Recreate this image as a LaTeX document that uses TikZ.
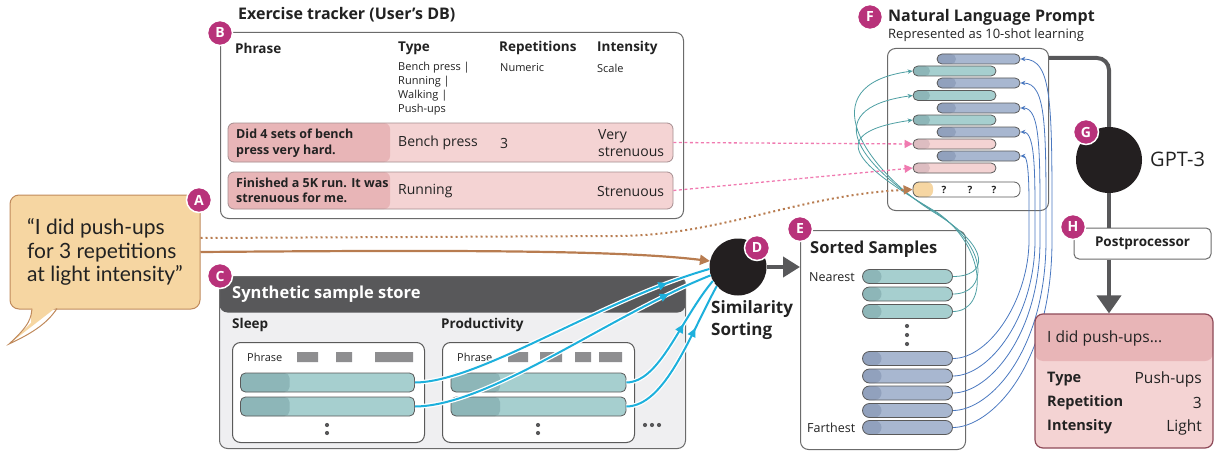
\documentclass[tikz,border=0pt]{standalone}
\usepackage{fontspec}
\setmainfont{Open Sans}
\newfontfamily\comicfont{Lato}
\usetikzlibrary{arrows.meta,decorations.markings}
\newcommand\setfs[1]{\fontsize{#1}{#1}\selectfont}
\definecolor{mag}{HTML}{B8327A}
\definecolor{tealL}{HTML}{A6CFCF}
\definecolor{tealD}{HTML}{8DB6B8}
\definecolor{blueL}{HTML}{A8B7D0}
\definecolor{blueD}{HTML}{91A1BD}
\definecolor{pinkL}{HTML}{F4D3D3}
\definecolor{pinkD}{HTML}{E8B5B7}
\definecolor{pinkD2}{HTML}{DDBDC1}
\definecolor{bubble}{HTML}{F6D6A2}
\definecolor{bubbleE}{HTML}{C08A5C}
\definecolor{brownA}{HTML}{B87C50}
\definecolor{cyanA}{HTML}{1DB0DC}
\definecolor{dgray}{HTML}{58585A}
\definecolor{frame}{HTML}{6B6B6B}
\definecolor{barline}{HTML}{5A5A5A}
\definecolor{rowline}{HTML}{A58E90}
\definecolor{pinkA}{HTML}{F07AB0}
\definecolor{tealA}{HTML}{4E9FA3}
\definecolor{blueA}{HTML}{4A78C0}
\definecolor{resE}{HTML}{8E4A58}
\definecolor{panel}{HTML}{EFEFF1}
\definecolor{ink}{HTML}{222222}
\definecolor{blk}{HTML}{231F20}
\definecolor{phgray}{HTML}{8E8E90}
\begin{document}
\begin{tikzpicture}[x=1pt,y=-1pt,
  txt/.style={anchor=west, inner sep=0pt, text=ink},
  hdr/.style={txt, font=\bfseries\setfs{13.5}},
  subt/.style={txt, font=\setfs{11}},
  badge/.style={circle, fill=mag, draw=white, line width=1.5pt, minimum size=25pt, inner sep=0pt, text=white, font=\bfseries\setfs{14}},
  framebox/.style={draw=frame, line width=1pt, rounded corners=8pt, fill=white, anchor=north west, inner sep=0pt},
  barbase/.style={draw=barline, line width=0.8pt, inner sep=0pt},
  ebar/.style={barbase, minimum width=90pt, minimum height=14pt, rounded corners=7pt},
  fbar/.style={barbase, minimum width=83pt, minimum height=10pt, rounded corners=5pt},
  cbar/.style={barbase, minimum width=174pt, minimum height=19pt, rounded corners=5pt},
  tealfill/.style={fill=tealL, path picture={\fill[tealD] (path picture bounding box.north west) rectangle ([xshift=#1]path picture bounding box.south west);}},
  bluefill/.style={fill=blueL, path picture={\fill[blueD] (path picture bounding box.north west) rectangle ([xshift=#1]path picture bounding box.south west);}},
  pinkfill/.style={fill=pinkL, path picture={\fill[pinkD2] (path picture bounding box.north west) rectangle ([xshift=#1]path picture bounding box.south west);}},
  rowfill/.style={draw=rowline, line width=0.8pt, rounded corners=6pt, inner sep=0pt, fill=pinkL, path picture={\fill[pinkD] (path picture bounding box.north west) rectangle ([xshift=#1]path picture bounding box.south west);}},
  cyanln/.style={draw=cyanA, line width=2pt, preaction={draw=white, line width=4.5pt}, postaction={decorate}, decoration={markings, mark=at position #1 with {\arrow{Triangle[length=9pt,width=8pt]}}}},
  tealln/.style={draw=tealA, line width=0.8pt, -{Stealth[length=5pt,width=4.5pt]}},
  blueln/.style={draw=blueA, line width=0.8pt, -{Stealth[length=5pt,width=4.5pt]}},
  pinkln/.style={draw=pinkA, line width=1.3pt, dash pattern=on 3pt off 2.5pt, -{Triangle[length=8pt,width=8pt]}}
]
\useasboundingbox (0,0) rectangle (1218,452);

% ---------- B: exercise tracker ----------
\node[txt, font=\bfseries\setfs{16}] (tB) at (238,15) {Exercise tracker (User’s DB)};
\node[framebox, minimum width=463pt, minimum height=186pt] (B) at (220,32) {};
\node[hdr] (h1) at (235,48) {Phrase};
\node[hdr] (h2) at (398,48) {Type};
\node[hdr] (h3) at (499,48) {Repetitions};
\node[hdr] (h4) at (597,48) {Intensity};
\node[subt] (s1) at (398,68) {Bench press |};
\node[subt] (s2) at (398,82) {Running |};
\node[subt] (s3) at (398,96) {Walking |};
\node[subt] (s4) at (398,110) {Push-ups};
\node[subt] (s5) at (500,68) {Numeric};
\node[subt] (s6) at (597,68) {Scale};
\node[rowfill=162pt, minimum width=445pt, minimum height=39pt] (r1) at (450.5,142.5) {};
\node[rowfill=162pt, minimum width=445pt, minimum height=37pt] (r2) at (450.5,190.5) {};
\node[txt, font=\bfseries\fontsize{12.5}{16}\selectfont, align=left] (p1) at (236,143) {Did 4 sets of bench\\press very hard.};
\node[txt, font=\setfs{14}] (p1b) at (398,143) {Bench press};
\node[txt, font=\setfs{14}] (p1c) at (500,143) {3};
\node[txt, font=\fontsize{14}{17}\selectfont, align=left] (p1d) at (598,143) {Very\\strenuous};
\node[txt, font=\bfseries\fontsize{12.5}{15.5}\selectfont, align=left] (p2) at (236,190.5) {Finished a 5K run. It was\\strenuous for me.};
\node[txt, font=\setfs{14}] (p2b) at (398,191) {Running};
\node[txt, font=\setfs{14}] (p2d) at (597,191) {Strenuous};

% ---------- A: speech bubble ----------
\node[draw=bubbleE, line width=1pt, fill=bubble, rounded corners=9pt, minimum width=190pt, minimum height=114pt, inner sep=0pt, align=left, text=ink, font=\comicfont\fontsize{21}{23.5}\selectfont] (bub) at (105,252) {“I did push-ups\\for 3 repetitions\\at light intensity”};
\fill[bubble] (31,306) -- (31,323) -- (9,344) -- (58,306) -- cycle;
\draw[bubbleE, line width=1pt] (32,308.5) .. controls (31,318) and (30,325) .. (9,344) .. controls (35,332) and (48,322) .. (57,308.5);

% ---------- C: synthetic sample store ----------
\node[framebox, fill=panel, minimum width=466pt, minimum height=172pt, path picture={\fill[dgray] (path picture bounding box.north west) rectangle ([yshift=-36pt]path picture bounding box.north east);}] (C) at (219,276) {};
\node[txt, text=white, font=\bfseries\setfs{16.5}] (tC) at (232,294) {Synthetic sample store};
\node[txt, font=\bfseries\setfs{13.5}] (tSl) at (232,325) {Sleep};
\node[txt, font=\bfseries\setfs{13.5}] (tPr) at (441,325) {Productivity};
\node[framebox, draw=barline, minimum width=192pt, minimum height=100pt] (SL) at (232,342) {};
\node[framebox, draw=barline, minimum width=192pt, minimum height=100pt] (PR) at (442,342) {};
\node[txt, font=\setfs{11}] (phS) at (247,357) {Phrase};
\node[txt, font=\setfs{11}] (phP) at (457,357) {Phrase};
\fill[phgray] (297,352) rectangle (318,362) (336,352) rectangle (352,362) (375,352) rectangle (413,362);
\fill[phgray] (508,352) rectangle (528,362) (540,352) rectangle (562,362) (575,352) rectangle (591,362) (599,352) rectangle (622,362);
\node[cbar, tealfill=49pt] (ss1) at (327.5,382.5) {};
\node[cbar, tealfill=49pt] (ss2) at (327.5,406.5) {};
\node[cbar, tealfill=49pt, minimum width=175pt] (ps1) at (538.5,382.5) {};
\node[cbar, tealfill=49pt, minimum width=175pt] (ps2) at (538.5,406.5) {};
\fill[dgray] (327,425) circle (2.1) (327,433) circle (2.1) (538,425) circle (2.1) (538,433) circle (2.1);
\fill[dgray] (645,425) circle (2.1) (652,425) circle (2.1) (659,425) circle (2.1);

% ---------- E: sorted samples ----------
\node[framebox, minimum width=165pt, minimum height=219pt] (E) at (800,230) {};
\node[txt, font=\bfseries\setfs{16.5}] (tE) at (810,249) {Sorted Samples};
\node[txt, font=\setfs{12.5}] (near) at (809,277) {Nearest};
\node[txt, font=\setfs{12.5}] (far) at (807,428) {Farthest};
\node[ebar, tealfill=19pt] (et1) at (907.5,276.5) {};
\node[ebar, tealfill=19pt] (et2) at (907.5,294) {};
\node[ebar, tealfill=19pt] (et3) at (907.5,311.5) {};
\fill[dgray] (907,326) circle (2.1) (907,335) circle (2.1) (907,344) circle (2.1);
\node[ebar, bluefill=19pt] (eb1) at (907.5,358.5) {};
\node[ebar, bluefill=19pt] (eb2) at (907.5,376) {};
\node[ebar, bluefill=19pt] (eb3) at (907.5,393) {};
\node[ebar, bluefill=19pt] (eb4) at (907.5,410.5) {};
\node[ebar, bluefill=19pt] (eb5) at (907.5,427.5) {};

% ---------- F: prompt ----------
\node[txt, font=\bfseries\setfs{16}] (tF) at (888,17) {Natural Language Prompt};
\node[txt, font=\setfs{13}] (tF2) at (888,35.5) {Represented as 10-shot learning};
\node[framebox, draw=frame, minimum width=161pt, minimum height=162pt] (F) at (887,48) {};

\node[fbar, bluefill=19pt] (fb1) at (978.5,59) {};
\node[fbar, tealfill=17pt] (ft1) at (954.5,71) {};
\node[fbar, bluefill=19pt] (fb2) at (978.5,83) {};
\node[fbar, tealfill=17pt] (ft2) at (954.5,95.5) {};
\node[fbar, bluefill=19pt] (fb3) at (978.5,108) {};
\node[fbar, tealfill=17pt] (ft3) at (954.5,120) {};
\node[fbar, bluefill=19pt] (fb4) at (978.5,132) {};
\node[fbar, pinkfill=17pt] (fp1) at (954.5,144) {};
\node[fbar, bluefill=19pt] (fb5) at (978.5,156) {};
\node[fbar, pinkfill=17pt] (fp2) at (954.5,168) {};
\node[barbase, minimum width=107pt, minimum height=15pt, rounded corners=6pt, fill=white, path picture={\fill[bubble] (path picture bounding box.north west) rectangle ([xshift=20pt]path picture bounding box.south west);}] (q) at (966.5,189.5) {};
\node[font=\bfseries\setfs{10}, text=ink, inner sep=0pt] (q1) at (944,190) {?};
\node[font=\bfseries\setfs{10}, text=ink, inner sep=0pt] (q2) at (970,190) {?};
\node[font=\bfseries\setfs{10}, text=ink, inner sep=0pt] (q3) at (994,190) {?};

% thin curves
\foreach \i/\ye/\yf/\k in {1/276.5/71/0, 2/294/95.5/5, 3/311.5/120/10}
  \draw[tealln] (et\i.east) .. controls (988,\ye) and (992-\k*0.5,248) .. (935+\k*0.3,213) .. controls (865,170) and (808+\k*0.8,\yf+14) .. (ft\i.west);
\foreach \i/\j/\ye/\yf/\xv in {1/5/358.5/156/1029, 2/4/376/132/1035, 3/3/393/108/1040, 4/2/410.5/83/1046, 5/1/427.5/59/1052}
  \draw[blueln] (eb\i.east) .. controls (990,\ye) and (\xv,\ye-60) .. (\xv,240) .. controls (\xv,\yf+45) and (\xv+1,\yf) .. (fb\j.east);

% ---------- D: similarity ----------
\node[circle, fill=blk, minimum size=57pt, inner sep=0pt] (D) at (738,267) {};
\node[txt, font=\bfseries\fontsize{17}{22}\selectfont, align=left] (tD) at (711,320) {Similarity\\Sorting};
\draw[dgray, line width=4pt, -{Triangle[length=17pt,width=20pt]}] (D.east) -- (E.west |- D.east);

% input connectors
\draw[brownA, line width=2.2pt, -{Triangle[length=10pt,width=10pt]}] (bub.east) .. controls (450,250) and (620,250) .. (D.168);
\draw[brownA, line width=2pt, dash pattern=on 2pt off 3pt, -{Triangle[length=9pt,width=9pt]}] ([yshift=14pt]bub.east) -- (620,236) .. controls (720,235) and (800,195) .. (q.west);
\draw[pinkln] (r1.east) -- (fp1.west);
\draw[pinkln] (r2.east) -- (fp2.west);
\draw[cyanln=0.86] (ss1.east) .. controls (480,382) and (600,300) .. (D.184);
\draw[cyanln=0.86] (ss2.east) .. controls (490,406) and (610,315) .. (D.197);
\draw[cyanln=0.62] (ps1.east) .. controls (660,382) and (680,320) .. (D.209);
\draw[cyanln=0.7] (ps2.east) .. controls (665,406) and (690,335) .. (D.222);

% ---------- G / H / result ----------
\node[circle, fill=blk, minimum size=66pt, inner sep=0pt] (G) at (1109,160) {};
\node[txt, font=\setfs{20}] (tG) at (1150,159) {GPT-3};
\node[draw=frame, line width=1pt, rounded corners=5pt, fill=white, minimum width=137pt, minimum height=31pt, inner sep=0pt, text=ink, font=\bfseries\setfs{13.5}] (H) at (1142.5,243.5) {Postprocessor};
\node[draw=resE, line width=1.2pt, rounded corners=8pt, fill=pinkL, minimum width=178pt, minimum height=134pt, inner sep=0pt, path picture={\fill[pinkD] (path picture bounding box.north west) rectangle ([yshift=-47pt]path picture bounding box.north east);}] (R) at (1124,381) {};
\draw[dgray, line width=4pt, rounded corners=12pt] ([yshift=-10pt]F.north east) -| (G.north);
\draw[dgray, line width=4pt] (G.south) -- (G.south |- H.north);
\draw[dgray, line width=4pt, -{Triangle[length=18pt,width=24pt]}] (G.south |- H.south) -- (G.south |- R.north);
\node[txt, font=\setfs{15.5}] (r0) at (1047,338) {I did push-ups...};
\node[txt, font=\bfseries\setfs{14.5}] (rk1) at (1047,379) {Type};
\node[txt, font=\bfseries\setfs{14.5}] (rk2) at (1047,403) {Repetition};
\node[txt, font=\bfseries\setfs{14.5}] (rk3) at (1047,427) {Intensity};
\node[txt, anchor=east, font=\setfs{15.5}] (rv1) at (1202,379) {Push-ups};
\node[txt, anchor=east, font=\setfs{15.5}] (rv2) at (1202,403) {3};
\node[txt, anchor=east, font=\setfs{15.5}] (rv3) at (1202,427) {Light};

% ---------- badges ----------
\node[badge] (bA) at (199,200) {A};
\node[badge] (bB) at (220,33) {B};
\node[badge] (bC) at (220,276) {C};
\node[badge] (bD) at (757,248) {D};
\node[badge] (bE) at (800,229) {E};
\node[badge] (bF) at (870,17) {F};
\node[badge] (bG) at (1086,132) {G};
\node[badge] (bH) at (1073,227) {H};
\end{tikzpicture}
\end{document}
